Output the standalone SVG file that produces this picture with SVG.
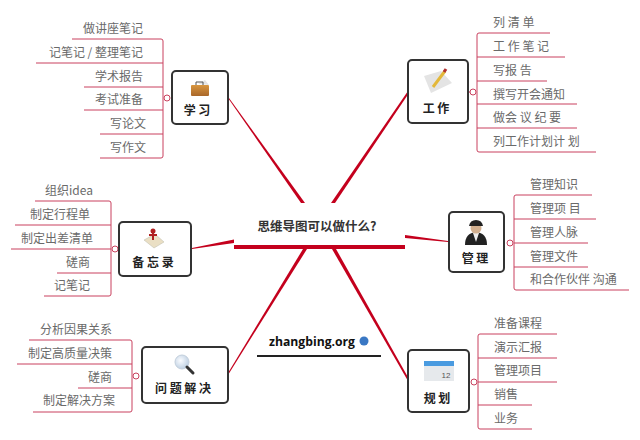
<svg xmlns="http://www.w3.org/2000/svg" width="640" height="440" viewBox="0 0 640 440">
<defs>
<linearGradient id="case" x1="0" y1="0" x2="0" y2="1"><stop offset="0" stop-color="#d8963f"/><stop offset="1" stop-color="#a9672a"/></linearGradient>
<radialGradient id="lens" cx="0.4" cy="0.4" r="0.7"><stop offset="0" stop-color="#fafcff"/><stop offset="1" stop-color="#b5c9de"/></radialGradient>
</defs>
<style>
text{font-family:"Noto Sans CJK SC","Liberation Sans",sans-serif}
.t{font-size:12px;fill:#6a6a6a}
.e{text-anchor:end}
.n{font-size:12px;font-weight:700;fill:#222;text-anchor:middle}
.b{fill:#fff;stroke:#333;stroke-width:2}
.l{fill:none;stroke:#c9415e;stroke-width:1}
.c{fill:#fff;stroke:#c9415e;stroke-width:1}
.m{fill:#c4001d}
</style>
<rect width="640" height="440" fill="#fff"/>
<g id="connectors">
<polygon class="m" points="228,98 229,98 305,203 301,203"/>
<polygon class="m" points="408,91 409,93 335,203 331,203"/>
<polygon class="m" points="192,248 192,249 234,243 234,239.500"/>
<polygon class="m" points="448,242 448,241 405,235 405,238"/>
<polygon class="m" points="228,373 228,375 307,249 303,249"/>
<polygon class="m" points="409,379 408,381 332,249 336,249"/>
<path class="l" d="M72,39H161Q163,39 163,41V156Q163,158 161,158H100M36,63H163M84,87H163M84,110H163M100,134H163"/>
<circle class="c" cx="167" cy="98" r="3"/>
<path class="l" d="M550,33H479Q477,33 477,35V150Q477,152 479,152H596M477,57H565M477,81H547M477,104H577M477,128H577M468,92H470"/>
<circle class="c" cx="473" cy="92" r="3"/>
<path class="l" d="M35,201H109Q111,201 111,203V294Q111,296 109,296H44M15,225H111M11,249H111M57,273H111"/>
<circle class="c" cx="115" cy="249" r="3"/>
<path class="l" d="M592,195H516Q514,195 514,197V288Q514,290 516,290H629M514,219H596M514,243H588M514,267H588"/>
<circle class="c" cx="510" cy="243" r="3"/>
<path class="l" d="M29,340H130Q132,340 132,342V410Q132,412 130,412H33M17,364H132M78,388H132"/>
<circle class="c" cx="136" cy="376" r="3"/>
<path class="l" d="M557,334H480Q478,334 478,336V427Q478,429 480,429H532M478,358H557M478,382H557M478,405H532"/>
<circle class="c" cx="474" cy="382" r="3"/>
</g>
<g id="center">
<text x="317" y="231" font-size="12.500" font-weight="700" fill="#333" text-anchor="middle">思维导图可以做什么?</text>
<rect x="234" y="245" width="171" height="4" fill="#c4001d"/>
</g>
<g id="site">
<text x="312" y="346" font-size="12.200" font-weight="700" fill="#111" text-anchor="middle" style="font-family:'Open Sans','Liberation Sans',sans-serif">zhangbing.org</text>
<circle cx="364" cy="341" r="4.500" fill="#3a78c4"/>
<rect x="257" y="355" width="124" height="2" fill="#222"/>
</g>
<g id="n-study">
<rect class="b" x="172" y="71" width="56" height="53" rx="4"/>
<polygon points="198,84 205,80 209,85" fill="#e4e4e4"/>
<path d="M196,85v-3h7v3" fill="none" stroke="#555" stroke-width="1"/>
<rect x="191" y="85" width="18" height="11" rx="1" fill="url(#case)"/>
<text class="n" x="197" y="115">学 习</text>
</g>
<g id="n-work">
<rect class="b" x="408" y="60" width="60" height="63" rx="4"/>
<polygon points="424,76 441,71 452,83 431,93" fill="#e4e4e4"/>
<path d="M433,87L445,71" stroke="#e3b83a" stroke-width="3"/>
<path d="M444,72L446,69" stroke="#b03030" stroke-width="3"/>
<text class="n" x="436" y="113">工 作</text>
</g>
<g id="n-memo">
<rect class="b" x="119" y="222" width="72" height="54" rx="4"/>
<polygon points="144,240 154,248 164,242 155,234" fill="#eadfc4" stroke="#bba" stroke-width=".500"/>
<circle cx="153" cy="231" r="2.500" fill="#b02020"/>
<path d="M149,235H157M153,232v8" stroke="#b02020" stroke-width="2"/>
<text class="n" x="153" y="267">备 忘 录</text>
</g>
<g id="n-manage">
<rect class="b" x="449" y="212" width="55" height="60" rx="4"/>
<path d="M465,245Q465,233 476,232Q487,233 487,245Z" fill="#222"/>
<path d="M473,233L476,242L479,233Z" fill="#eee"/>
<circle cx="476" cy="228" r="5.500" fill="#d2b090"/>
<path d="M469,226Q470,220 476,220Q482,220 483,226Z" fill="#222"/>
<text class="n" x="475" y="263">管 理</text>
</g>
<g id="n-solve">
<rect class="b" x="142" y="347" width="86" height="56" rx="4"/>
<circle cx="182" cy="362" r="7" fill="url(#lens)" stroke="#c3cfdc" stroke-width="1"/>
<path d="M187,367l6,6" stroke="#333" stroke-width="3" stroke-linecap="round"/>
<text class="n" x="183" y="393">问 题 解 决</text>
</g>
<g id="n-plan">
<rect class="b" x="408" y="350" width="61" height="62" rx="4"/>
<rect x="424" y="361" width="30" height="20" fill="#e6e9ec"/>
<rect x="424" y="361" width="30" height="5" fill="#4a9be0"/>
<text x="446" y="378" font-size="8" fill="#555" text-anchor="middle" style="font-family:'Liberation Sans',sans-serif">12</text>
<text class="n" x="437" y="403">规 划</text>
</g>
<g id="labels">
<text class="t e" x="143" y="33">做讲座笔记</text>
<text class="t e" x="143" y="57">记笔记 / 整理笔记</text>
<text class="t e" x="143" y="81">学术报告</text>
<text class="t e" x="143" y="104">考试准备</text>
<text class="t e" x="146" y="128">写论文</text>
<text class="t e" x="146" y="152">写作文</text>
<text class="t" x="493" y="27">列 清 单</text>
<text class="t" x="493" y="51">工 作 笔 记</text>
<text class="t" x="493" y="75">写报 告</text>
<text class="t" x="493" y="99">撰写开会通知</text>
<text class="t" x="493" y="122">做会 议 纪 要</text>
<text class="t" x="493" y="146">列工作计划计 划</text>
<text class="t e" x="93" y="195">组织idea</text>
<text class="t e" x="90" y="219">制定行程单</text>
<text class="t e" x="93" y="243">制定出差清单</text>
<text class="t e" x="90" y="267">磋商</text>
<text class="t e" x="90" y="290">记笔记</text>
<text class="t" x="530" y="189">管理知识</text>
<text class="t" x="530" y="213">管理项 目</text>
<text class="t" x="530" y="237">管理人脉</text>
<text class="t" x="530" y="261">管理文件</text>
<text class="t" x="530" y="284">和合作伙伴 沟通</text>
<text class="t e" x="112" y="334">分析因果关系</text>
<text class="t e" x="112" y="358">制定高质量决策</text>
<text class="t e" x="112" y="382">磋商</text>
<text class="t e" x="115" y="405">制定解决方案</text>
<text class="t" x="494" y="328">准备课程</text>
<text class="t" x="494" y="352">演示汇报</text>
<text class="t" x="494" y="375">管理项目</text>
<text class="t" x="494" y="399">销售</text>
<text class="t" x="494" y="423">业务</text>
</g>
</svg>
